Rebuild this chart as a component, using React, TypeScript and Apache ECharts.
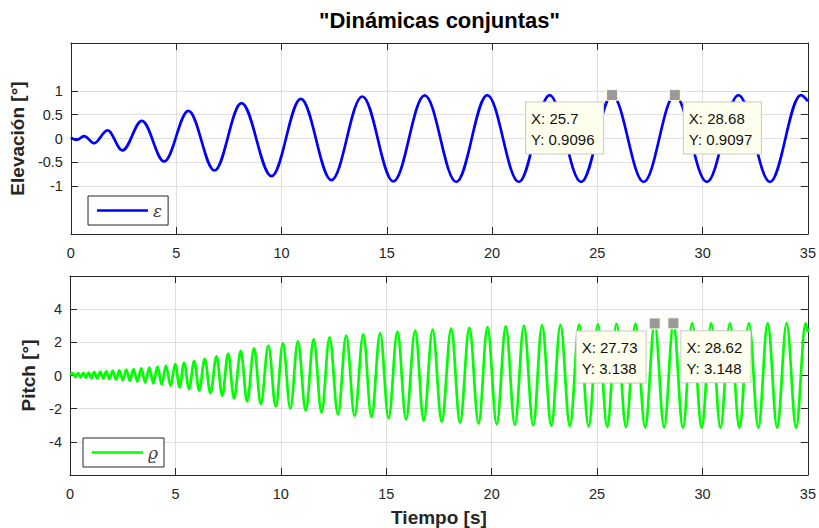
import React, { useEffect, useRef } from "react";
import * as echarts from "echarts";

// ---- data (extrema of each signal) ----
const elevTicks = [-1, -0.5, 0, 0.5, 1];
const pitchTicks = [-4, -2, 0, 2, 4];

const elevation: [number, number][] = [
  [0, 0.02], [0.28, -0.03], [0.63, 0.05], [1.1, -0.1], [1.74, 0.17], [2.45, -0.25],
  [3.37, 0.37], [4.43, -0.48], [5.58, 0.58], [6.82, -0.67], [8.1, 0.74], [9.53, -0.79],
  [10.92, 0.83], [12.37, -0.87], [13.84, 0.88], [15.31, -0.9], [16.8, 0.905], [18.3, -0.91],
  [19.77, 0.908], [21.27, -0.91], [22.73, 0.909], [24.23, -0.91], [25.7, 0.9096], [27.2, -0.91],
  [28.68, 0.9097], [30.2, -0.91], [31.7, 0.91], [33.2, -0.91], [34.66, 0.91], [35, 0.78],
];

const pitch: [number, number][] = [
  [0, 0.03], [0.13, 0.14], [0.26, -0.1], [0.39, 0.15], [0.51, -0.11], [0.63, 0.16],
  [0.755, -0.13], [0.88, 0.18], [1.015, -0.15], [1.15, 0.2], [1.295, -0.17], [1.44, 0.22],
  [1.58, -0.19], [1.72, 0.25], [1.87, -0.22], [2.02, 0.28], [2.18, -0.25], [2.34, 0.31],
  [2.505, -0.29], [2.67, 0.35], [2.84, -0.33], [3.01, 0.39], [3.195, -0.37], [3.38, 0.43],
  [3.57, -0.42], [3.76, 0.48], [3.955, -0.48], [4.15, 0.53], [4.35, -0.55], [4.55, 0.6],
  [4.77, -0.62], [4.99, 0.68], [5.2, -0.71], [5.41, 0.77], [5.65, -0.81], [5.89, 0.87],
  [6.13, -0.91], [6.39, 1.0], [6.66, -1.06], [6.95, 1.16], [7.22, -1.22], [7.5, 1.32],
  [7.78, -1.38], [8.1, 1.48], [8.4, -1.56], [8.73, 1.64], [9.05, -1.72], [9.41, 1.8],
  [9.76, -1.87], [10.1, 1.94], [10.45, -2.0], [10.81, 2.06], [11.18, -2.12], [11.56, 2.18],
  [11.93, -2.24], [12.31, 2.3], [12.71, -2.34], [13.1, 2.4], [13.5, -2.43], [13.91, 2.48],
  [14.3, -2.51], [14.71, 2.56], [15.11, -2.58], [15.53, 2.64], [15.94, -2.65], [16.37, 2.71],
  [16.78, -2.72], [17.2, 2.77], [17.63, -2.78], [18.08, 2.83], [18.5, -2.84], [18.94, 2.88],
  [19.38, -2.89], [19.8, 2.92], [20.24, -2.93], [20.67, 2.96], [21.1, -2.97], [21.53, 2.99],
  [21.97, -3.0], [22.39, 3.02], [22.83, -3.03], [23.26, 3.05], [23.71, -3.05], [24.15, 3.07],
  [24.6, -3.07], [25.04, 3.09], [25.48, -3.09], [25.92, 3.11], [26.37, -3.1], [26.82, 3.12],
  [27.28, -3.12], [27.73, 3.138], [28.18, -3.13], [28.62, 3.148], [29.07, -3.14], [29.51, 3.15],
  [29.96, -3.14], [30.41, 3.15], [30.85, -3.14], [31.3, 3.15], [31.75, -3.14], [32.2, 3.15],
  [32.65, -3.14], [33.09, 3.15], [33.54, -3.14], [33.99, 3.15], [34.44, -3.14], [34.89, 3.15],
  [35, 2.6],
];

const elevTips: [number, number][] = [[25.7, 0.9096], [28.68, 0.9097]];
const pitchTips: [number, number][] = [[27.73, 3.138], [28.62, 3.148]];

const FONT = "Liberation Sans, Arial, Helvetica, sans-serif";
const AX = "#262626";
const GRID = "#dfdfdf";

function xAxes(gridIndex: number, withName: boolean) {
  const common = {
    type: "value",
    gridIndex,
    min: 0,
    max: 35,
    interval: 5,
    axisLine: { show: true, onZero: false, lineStyle: { color: AX, width: 1 } },
    axisTick: { show: true, inside: true, length: 7, lineStyle: { color: AX } },
  };
  return [
    {
      ...common,
      position: "bottom",
      axisLabel: { show: true, fontSize: 14.5, color: AX, fontFamily: FONT, margin: 11 },
      splitLine: { show: true, lineStyle: { color: GRID, width: 1 } },
      ...(withName
        ? {
            name: "Tiempo [s]",
            nameLocation: "middle",
            nameGap: 33,
            nameTextStyle: { fontSize: 19, fontWeight: "bold", color: AX, fontFamily: FONT },
          }
        : {}),
    },
    {
      ...common,
      position: "top",
      axisLabel: { show: false },
      splitLine: { show: false },
    },
  ];
}

function yAxes(gridIndex: number, min: number, max: number, ticks: number[], name: string, gap: number) {
  const common = {
    type: "value",
    gridIndex,
    min,
    max,
    axisLine: { show: true, onZero: false, lineStyle: { color: AX, width: 1 } },
    axisTick: { show: true, inside: true, length: 7, lineStyle: { color: AX }, customValues: ticks },
  };
  return [
    {
      ...common,
      position: "left",
      axisLabel: { show: true, fontSize: 14.5, color: AX, fontFamily: FONT, margin: 8, customValues: ticks },
      splitLine: { show: true, lineStyle: { color: GRID, width: 1 } },
      name,
      nameLocation: "middle",
      nameGap: gap,
      nameTextStyle: { fontSize: 19, fontWeight: "bold", color: AX, fontFamily: FONT },
    },
    {
      ...common,
      position: "right",
      axisLabel: { show: false },
      splitLine: { show: false },
    },
  ];
}

// contentWidth: text area width of the data-tip box; rightDx: offset of the right-hand box
function tipMarks(tips: [number, number][], dy: number, contentWidth: number, rightDx: number) {
  const boxWidth = contentWidth + 13;
  return {
    symbol: "rect",
    symbolSize: 11,
    itemStyle: { color: "#9a9a9a", borderColor: "#fffbe0", borderWidth: 1 },
    label: {
      show: true,
      color: "#111",
      fontSize: 15,
      lineHeight: 21.5,
      fontFamily: FONT,
      backgroundColor: "#ffffee",
      borderColor: "#c8c8c8",
      borderWidth: 1,
      padding: [5, 8, 3, 5],
      width: contentWidth,
      align: "left",
      verticalAlign: "top",
    },
    data: tips.map(([x, y], i) => ({
      coord: [x, y],
      label: {
        formatter: `X: ${x}\nY: ${y}`,
        position: i === 0 ? [-3 - boxWidth, dy] : [rightDx, dy],
        align: "left",
        verticalAlign: "top",
      },
    })),
  };
}

function legendBox(name: string, left: number, top: number) {
  return {
    data: [name],
    left,
    top,
    orient: "horizontal",
    selectedMode: false,
    icon: "rect",
    itemWidth: 51,
    itemHeight: 2.6,
    padding: [6, 6, 6, 9],
    borderColor: AX,
    borderWidth: 1,
    backgroundColor: "#ffffff",
    textStyle: { fontSize: 17, fontStyle: "italic", color: "#404040", fontFamily: "DejaVu Serif, serif" },
  };
}

export default function App() {
  const ref = useRef<HTMLDivElement>(null);
  useEffect(() => {
    if (!ref.current) return;
    const chart = echarts.init(ref.current, null, { renderer: "svg" });
    chart.setOption({
      animation: false,
      backgroundColor: "#ffffff",
      title: {
        text: '"Dinámicas conjuntas"',
        left: 439.5,
        top: 9,
        padding: 0,
        textAlign: "center",
        textStyle: { fontSize: 22, fontWeight: "bold", color: "#000", fontFamily: FONT },
      },
      grid: [
        { left: 70, top: 43, width: 739, height: 191, containLabel: false },
        { left: 70, top: 276, width: 739, height: 199, containLabel: false },
      ],
      xAxis: [...xAxes(0, false), ...xAxes(1, true)],
      yAxis: [
        ...yAxes(0, -2, 2, elevTicks, "Elevación [°]", 37),
        ...yAxes(1, -6, 6, pitchTicks, "Pitch [°]", 25),
      ],
      legend: [legendBox("ε", 88, 196), legendBox("ϱ", 83, 438)],
      series: [
        {
          type: "line",
          name: "ε",
          xAxisIndex: 0,
          yAxisIndex: 0,
          data: elevation,
          symbol: "none",
          smooth: 0.36,
          smoothMonotone: "x",
          lineStyle: { color: "#0000ff", width: 2.7 },
          itemStyle: { color: "#0000ff" },
          markPoint: tipMarks(elevTips, 13.5, 64, 15),
        },
        {
          type: "line",
          name: "ϱ",
          xAxisIndex: 2,
          yAxisIndex: 2,
          data: pitch,
          symbol: "none",
          smooth: 0.36,
          smoothMonotone: "x",
          lineStyle: { color: "#00ff00", width: 2.7 },
          itemStyle: { color: "#00ff00" },
          markPoint: tipMarks(pitchTips, 14, 56, 14),
        },
      ],
    });
    return () => chart.dispose();
  }, []);
  return <div ref={ref} style={{ position: "absolute", left: 0, top: 0, width: 819, height: 528 }} />;
}
